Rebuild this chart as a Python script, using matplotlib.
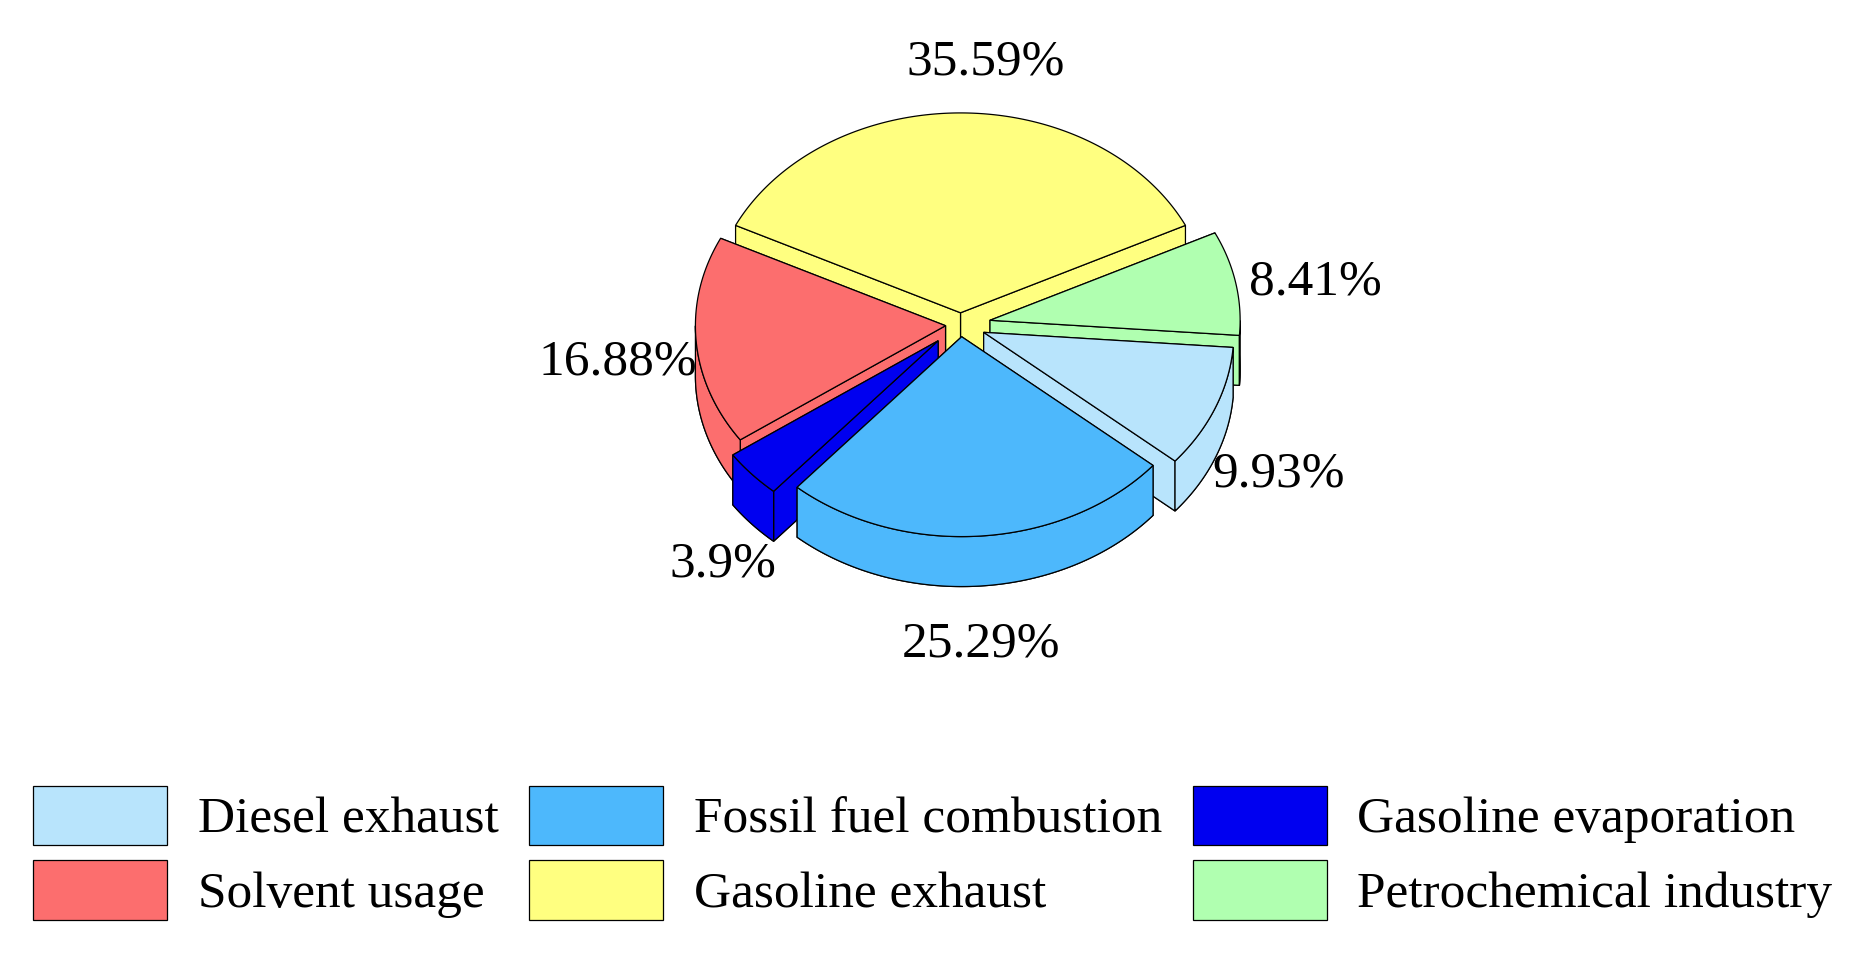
import numpy as np
import matplotlib.pyplot as plt
from matplotlib.patches import Polygon, Patch

plt.rcParams['font.family'] = ['Liberation Serif', 'DejaVu Serif']

# wedges clockwise starting from the top one
names = ['Gasoline exhaust', 'Petrochemical industry', 'Diesel exhaust',
         'Fossil fuel combustion', 'Gasoline evaporation', 'Solvent usage']
shares = [35.59, 8.41, 9.93, 25.29, 3.9, 16.88]
labels = ['35.59%', '8.41%', '9.93%', '25.29%', '3.9%', '16.88%']
colors = ['#FFFF80', '#B0FFB0', '#B8E4FC', '#4DB8FC', '#0000F0', '#FC6E6E']
explode = [0.06, 0.12, 0.1, 0.06, 0.12, 0.06]

k = 0.8       # vertical squash
depth = 0.2   # thickness
start = 90 + shares[0] / 100 * 360 / 2

fig = plt.figure(figsize=(18.66, 9.66), dpi=100)
ax = fig.add_axes([0, 0.25, 1, 0.75])
ax.set_xlim(-3.84, 3.62)
ax.set_ylim(-1.6, 1.3)
ax.axis('off')


def proj(x, y, z=0.0):
    return (x, k * y - z)


wedges = []
a2 = start
for i, s in enumerate(shares):
    a1 = a2 - s / 100 * 360
    mid = np.radians((a1 + a2) / 2)
    ox, oy = explode[i] * np.cos(mid), explode[i] * np.sin(mid)
    wedges.append((i, a1, a2, ox, oy, mid))
    a2 = a1

wedges.sort(key=lambda w: -np.sin(w[5]))

for i, a1, a2, ox, oy, mid in wedges:
    c = colors[i]
    kw = dict(facecolor=c, edgecolor='black', lw=0.9)
    t = np.radians(np.linspace(a1, a2, 200))
    ex, ey = ox + np.cos(t), oy + np.sin(t)

    def face(a):
        ar = np.radians(a)
        x1, y1 = ox + np.cos(ar), oy + np.sin(ar)
        return [proj(ox, oy), proj(x1, y1), proj(x1, y1, depth), proj(ox, oy, depth)]

    vis1 = np.cos(np.radians(a1)) > 0
    vis2 = np.cos(np.radians(a2)) < 0
    # hidden faces first
    bottom = [proj(ox, oy, depth)] + [proj(x, y, depth) for x, y in zip(ex, ey)]
    ax.add_patch(Polygon(bottom, closed=True, **kw))
    faces = [(vis1, face(a1)), (vis2, face(a2))]
    for v, f in sorted(faces, key=lambda q: q[0]):
        ax.add_patch(Polygon(f, closed=True, **kw))
    # front outer band
    front = np.sin(t) < 0
    if front.any():
        fx, fy = ex[front], ey[front]
        band = [proj(x, y) for x, y in zip(fx, fy)] + \
               [proj(x, y, depth) for x, y in zip(fx[::-1], fy[::-1])]
        ax.add_patch(Polygon(band, closed=True, **kw))
    top = [proj(ox, oy)] + [proj(x, y) for x, y in zip(ex, ey)]
    ax.add_patch(Polygon(top, closed=True, **kw))

# percentage labels
label_pos = [(0.1, 1.05), (1.42, 0.17), (1.27, -0.6), (0.08, -1.28), (-0.95, -0.96), (-1.37, -0.15)]
for i in range(len(shares)):
    ax.text(*label_pos[i], labels[i], fontsize=37, ha='center', va='center')

order = [2, 5, 3, 0, 4, 1]
handles = [Patch(facecolor=colors[j], edgecolor='black', lw=0.9, label=names[j]) for j in order]
fig.legend(handles=handles, ncol=3, loc='lower center', bbox_to_anchor=(0.5, 0.0),
           frameon=False, fontsize=37, handlelength=2.6, handleheight=1.4,
           columnspacing=0.6, handletextpad=0.6, labelspacing=0.3)

fig.savefig('out.png', dpi=100)
